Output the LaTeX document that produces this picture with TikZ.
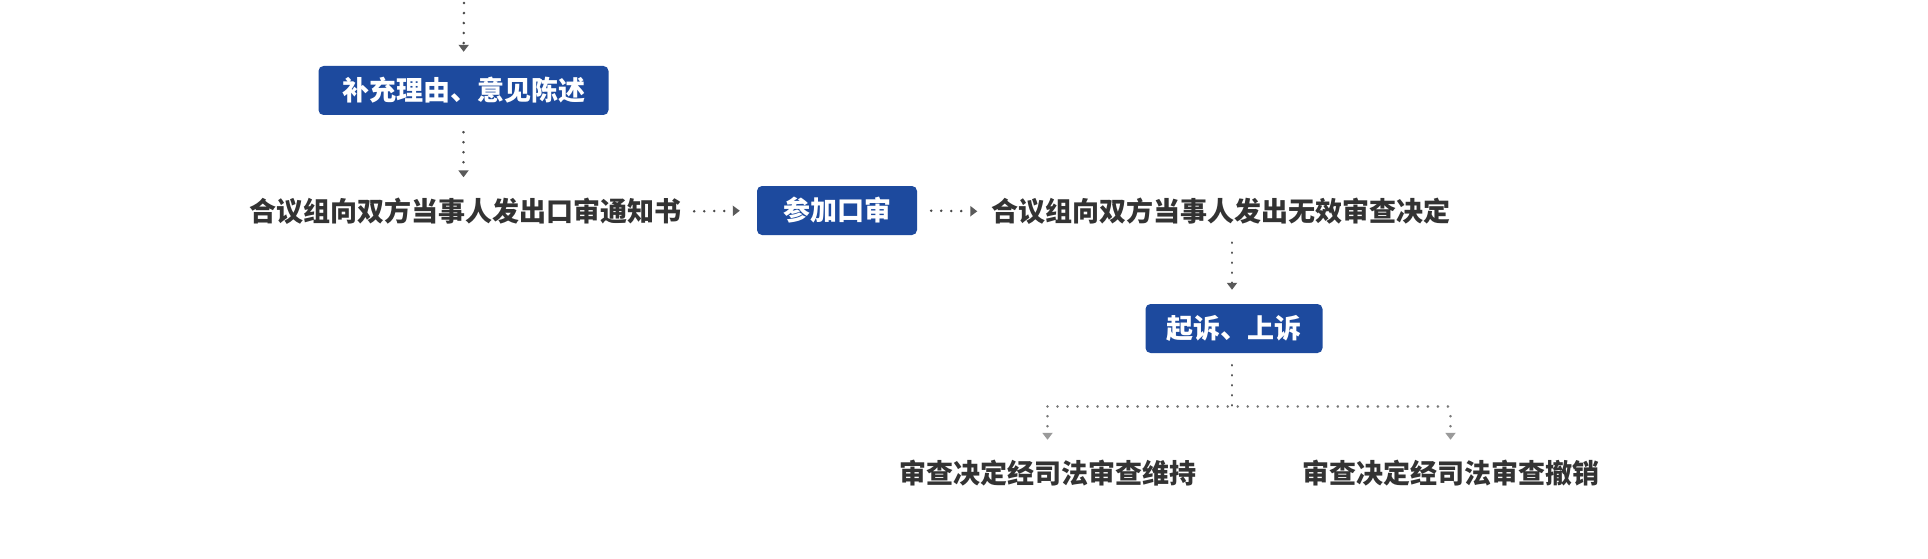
\documentclass[tikz,border=0pt]{standalone}
\usepackage{fontspec}
\newfontfamily\cjk{Noto Sans CJK SC}
\usetikzlibrary{arrows.meta,calc}
\definecolor{boxblue}{HTML}{1D4A9E}
\definecolor{txtgray}{HTML}{333333}
\definecolor{dotdark}{HTML}{4A4A4A}
\definecolor{tipdarkc}{HTML}{5A5A5A}
\definecolor{dotlight}{HTML}{7A7A7A}
\definecolor{tiplight}{HTML}{9A9A9A}
\begin{document}
\begin{tikzpicture}[x=1pt,y=-1pt,
  bluebox/.style={fill=boxblue,rounded corners=5pt,text=white,inner sep=0pt,
    minimum height=49pt,font=\cjk\bfseries\fontsize{27pt}{30pt}\selectfont},
  plaintext/.style={inner sep=0pt,minimum height=30pt,text=txtgray,
    font=\cjk\bfseries\fontsize{27pt}{30pt}\selectfont},
  dotline/.style={draw=dotdark,line width=2.8pt,line cap=round,
    dash pattern=on 0.01pt off 10pt},
  dotlinelight/.style={draw=dotlight,line width=2.8pt,line cap=round,
    dash pattern=on 0.01pt off 10pt},
  tipdark/.style={-{Triangle[width=10pt,length=7pt,fill=tipdarkc,color=tipdarkc,line cap=butt]}},
  tiplt/.style={-{Triangle[width=10pt,length=7pt,fill=tiplight,color=tiplight,line cap=butt]}},
]
\useasboundingbox (0,0) rectangle (1928,559);
\fill[white] (0,0) rectangle (1928,559);

\coordinate (top) at (464,0);
\node[bluebox,minimum width=290pt] (b1) at (463.5,90.5) {补充理由、意见陈述};
\node[plaintext] (t1) at (465,211.5) {合议组向双方当事人发出口审通知书};
\node[bluebox,minimum width=160pt] (b2) at (837,210.5) {参加口审};
\node[plaintext] (t2) at (1221,211.5) {合议组向双方当事人发出无效审查决定};
\node[bluebox,minimum width=177pt] (b3) at (1234,328.5) {起诉、上诉};
\node[plaintext] (t3) at (1047.5,473) {审查决定经司法审查维持};
\node[plaintext] (t4) at (1450.5,473) {审查决定经司法审查撤销};
\coordinate (b3top) at ($(b3.north)+(-2,0)$);
\coordinate (b3bot) at ($(b3.south)+(-2,0)$);
\coordinate (j) at ($(b3bot)+(0,53)$);

\draw[dotline,tipdark,shorten <=3pt,shorten >=14pt] (top) -- (b1.north);
\draw[dotline,tipdark,shorten <=17pt,shorten >=19pt] (b1.south) -- (b1.south |- t1.north);
\draw[dotline,tipdark,shorten <=13pt,shorten >=17pt] (t1.east) -- (b2.west);
\draw[dotline,tipdark,shorten <=14pt,shorten >=14pt] (b2.east) -- (t2.west);
\draw[dotline,tipdark,shorten <=16pt,shorten >=14pt] (t2.south -| b3top) -- (b3top);
\draw[dotline,shorten <=12pt] (b3bot) -- (j);
\draw[dotlinelight] (j -| t3.north) -- (j -| t4.north);
\draw[dotlinelight,tiplt,shorten <=10pt,shorten >=18pt] (j -| t3.north) -- (t3.north);
\draw[dotlinelight,tiplt,shorten <=10pt,shorten >=18pt] (j -| t4.north) -- (t4.north);
\end{tikzpicture}
\end{document}
